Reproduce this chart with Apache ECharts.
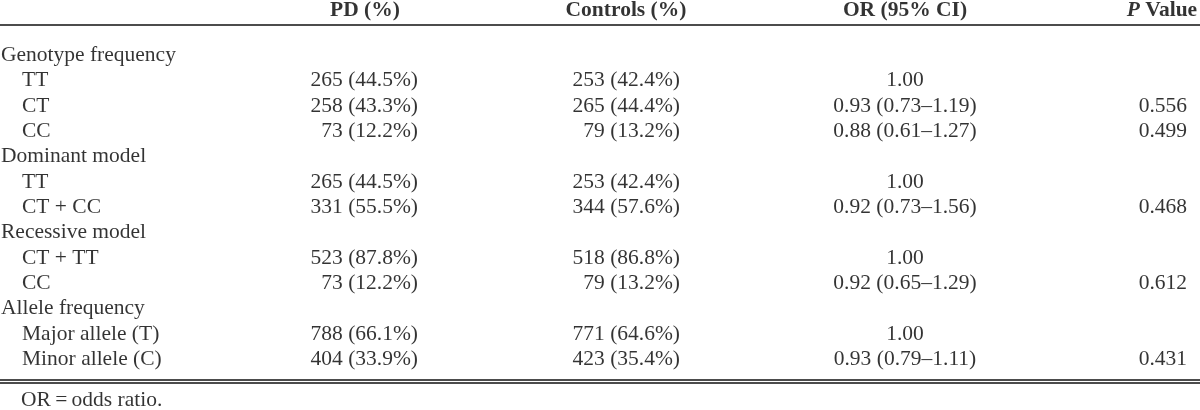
<!DOCTYPE html>
<html>
<head>
<meta charset="utf-8">
<script src="https://cdn.jsdelivr.net/npm/echarts@6/dist/echarts.min.js"></script>
<style>
html,body{margin:0;padding:0;background:#fff;}
#chart{width:1200px;height:410px;}
</style>
</head>
<body>
<div id="chart"></div>
<script>
// ---------- data ----------
var headers = ['PD (%)', 'Controls (%)', 'OR (95% CI)', 'P Value'];
var rowLabels = ['Genotype frequency', 'TT', 'CT', 'CC',
  'Dominant model', 'TT', 'CT + CC',
  'Recessive model', 'CT + TT', 'CC',
  'Allele frequency', 'Major allele (T)', 'Minor allele (C)'];
var rowIsGroup = [1, 0, 0, 0, 1, 0, 0, 1, 0, 0, 1, 0, 0];
var pdCount   = [null, 265, 258, 73, null, 265, 331, null, 523, 73, null, 788, 404];
var pdPct     = [null, 44.5, 43.3, 12.2, null, 44.5, 55.5, null, 87.8, 12.2, null, 66.1, 33.9];
var ctrlCount = [null, 253, 265, 79, null, 253, 344, null, 518, 79, null, 771, 423];
var ctrlPct   = [null, 42.4, 44.4, 13.2, null, 42.4, 57.6, null, 86.8, 13.2, null, 64.6, 35.4];
var orVal     = [null, 1.00, 0.93, 0.88, null, 1.00, 0.92, null, 1.00, 0.92, null, 1.00, 0.93];
var ciLow     = [null, null, 0.73, 0.61, null, null, 0.73, null, null, 0.65, null, null, 0.79];
var ciHigh    = [null, null, 1.19, 1.27, null, null, 1.56, null, null, 1.29, null, null, 1.11];
var pVal      = [null, null, 0.556, 0.499, null, null, 0.468, null, null, 0.612, null, null, 0.431];
var footnote = 'OR\u2009=\u2009odds ratio.';

// ---------- layout ----------
var W = 1200, H = 410;
var ROW0_PX = 55.4, ROW_STEP = 25.34;
var yMin = -ROW0_PX / ROW_STEP, yMax = yMin + H / ROW_STEP;
function pxRow(px) { return yMin + px / ROW_STEP; }
var X_GROUP = 1, X_SUB = 22, X_PD_R = 418, X_CTRL_R = 680, X_OR_C = 905, X_P_R = 1187;
var HEAD_X = [365, 626, 905, 1162];
var FONT = '"Liberation Serif", "Times New Roman", serif';
var FS = 21.5;
var COLOR = '#000';

// ---------- build label points ----------
function pt(x, y, text, align, bold) {
  return {
    value: [x, y],
    name: text,
    label: { align: align, fontWeight: bold ? 'bold' : 'normal' }
  };
}
var cells = [];
rowLabels.forEach(function (lab, i) {
  cells.push(pt(rowIsGroup[i] ? X_GROUP : X_SUB, i, lab, 'left'));
  if (pdCount[i] != null) cells.push(pt(X_PD_R, i, pdCount[i] + ' (' + pdPct[i].toFixed(1) + '%)', 'right'));
  if (ctrlCount[i] != null) cells.push(pt(X_CTRL_R, i, ctrlCount[i] + ' (' + ctrlPct[i].toFixed(1) + '%)', 'right'));
  if (orVal[i] != null) {
    var t = orVal[i].toFixed(2);
    if (ciLow[i] != null) t += ' (' + ciLow[i].toFixed(2) + '\u2013' + ciHigh[i].toFixed(2) + ')';
    cells.push(pt(X_OR_C, i, t, 'center'));
  }
  if (pVal[i] != null) cells.push(pt(X_P_R, i, pVal[i].toFixed(3), 'right'));
});
var headY = pxRow(10.5);
var headPts = headers.map(function (h, j) {
  var txt = h;
  if (h.indexOf('P ') === 0) txt = '{i|P}' + h.slice(1);
  return pt(HEAD_X[j], headY, txt, 'center', true);
});
cells.push(pt(X_SUB - 1, pxRow(400), footnote, 'left'));

var chart = echarts.init(document.getElementById('chart'), null, { renderer: 'canvas' });
var labelBase = {
  show: true, position: 'inside', verticalAlign: 'middle',
  formatter: function (p) { return p.name; },
  fontFamily: FONT, fontSize: FS, color: COLOR,
  rich: { i: { fontStyle: 'italic', fontWeight: 'bold', fontFamily: FONT, fontSize: FS, color: COLOR } }
};
chart.setOption({
  animation: false,
  backgroundColor: '#fff',
  grid: { left: 0, right: 0, top: 0, bottom: 0 },
  xAxis: { type: 'value', min: 0, max: W, show: false },
  yAxis: { type: 'value', min: yMin, max: yMax, inverse: true, show: false },
  series: [
    {
      type: 'scatter', symbolSize: 0, clip: false, silent: true,
      data: cells, label: labelBase,
      markLine: {
        silent: true, symbol: 'none', label: { show: false },
        lineStyle: { color: '#111', type: 'solid', width: 1.6 },
        data: [{ yAxis: pxRow(25) }, { yAxis: pxRow(379.5) }, { yAxis: pxRow(382.5) }]
      }
    },
    {
      type: 'scatter', symbolSize: 0, clip: false, silent: true,
      data: headPts, label: labelBase
    }
  ]
});
</script>
</body>
</html>
